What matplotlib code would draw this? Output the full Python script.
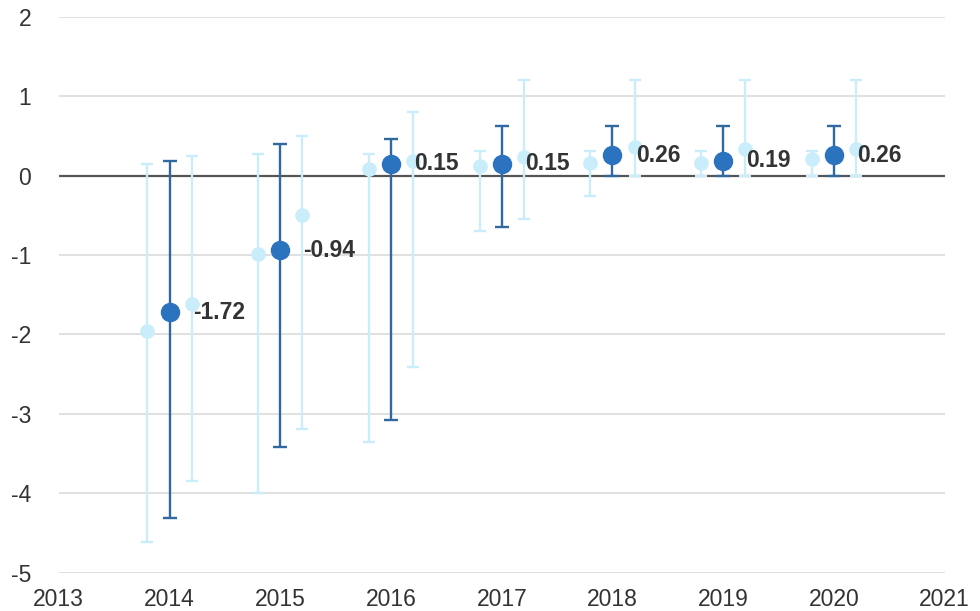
import numpy as np
import matplotlib.pyplot as plt

plt.rcParams['font.family'] = ['Liberation Sans', 'DejaVu Sans']
plt.rcParams['axes.unicode_minus'] = False

years = [2014, 2015, 2016, 2017, 2018, 2019, 2020]

# central estimate (dark)
mid = [-1.72, -0.94, 0.15, 0.15, 0.26, 0.19, 0.26]
mid_hi = [0.19, 0.40, 0.46, 0.63, 0.63, 0.63, 0.63]
mid_lo = [-4.31, -3.42, -3.08, -0.64, 0.0, 0.0, 0.0]

# light series, left of each year
left = [-1.95, -0.99, 0.09, 0.12, 0.155, 0.16, 0.21]
left_hi = [0.15, 0.27, 0.27, 0.31, 0.31, 0.31, 0.31]
left_lo = [-4.62, -4.0, -3.35, -0.69, -0.25, 0.0, 0.0]

# light series, right of each year
right = [-1.62, -0.50, 0.19, 0.24, 0.36, 0.34, 0.34]
right_hi = [0.25, 0.50, 0.81, 1.21, 1.21, 1.21, 1.21]
right_lo = [-3.85, -3.19, -2.41, -0.55, 0.0, 0.0, 0.0]

dark = '#2B72BF'
dark_bar = '#3069A0'
light = '#C9EDFB'

fig = plt.figure(figsize=(9.8, 6.11), dpi=100)
ax = fig.add_axes([0.060, 0.063, 0.904, 0.909])

x = np.array(years, dtype=float)
off = 0.2

def errs(v, lo, hi):
    v, lo, hi = np.array(v), np.array(lo), np.array(hi)
    return [v - lo, hi - v]

ax.axhline(0, color='#555555', lw=1.6, zorder=2)

ax.errorbar(x - off, left, yerr=errs(left, left_lo, left_hi), fmt='o', ms=9.5,
            color=light, ecolor=light, elinewidth=1.7, capsize=4, capthick=1.7, zorder=3)
ax.errorbar(x + off, right, yerr=errs(right, right_lo, right_hi), fmt='o', ms=9.5,
            color=light, ecolor=light, elinewidth=1.7, capsize=4, capthick=1.7, zorder=3)
ax.errorbar(x, mid, yerr=errs(mid, mid_lo, mid_hi), fmt='o', ms=13,
            color=dark, ecolor=dark_bar, elinewidth=1.7, capsize=5, capthick=1.7, zorder=4)

for xi, v in zip(x, mid):
    ax.text(xi + 0.21, v, f'{v:.2f}', ha='left', va='center', fontsize=16.5,
            fontweight='bold', color='#333333', zorder=5)

ax.set_xlim(2013, 2021)
ax.set_ylim(-5, 2)
ax.set_xticks(range(2013, 2022))
ax.set_yticks(range(-5, 3))
ax.grid(axis='y', color='#DDDDDD', lw=1.3, zorder=0)
ax.set_axisbelow(True)
for s in ax.spines.values():
    s.set_visible(False)
ax.tick_params(axis='both', length=0, labelsize=16.5, labelcolor='#333333')
ax.tick_params(axis='y', pad=20)
ax.tick_params(axis='x', pad=11)

fig.savefig('out.png', dpi=100)
